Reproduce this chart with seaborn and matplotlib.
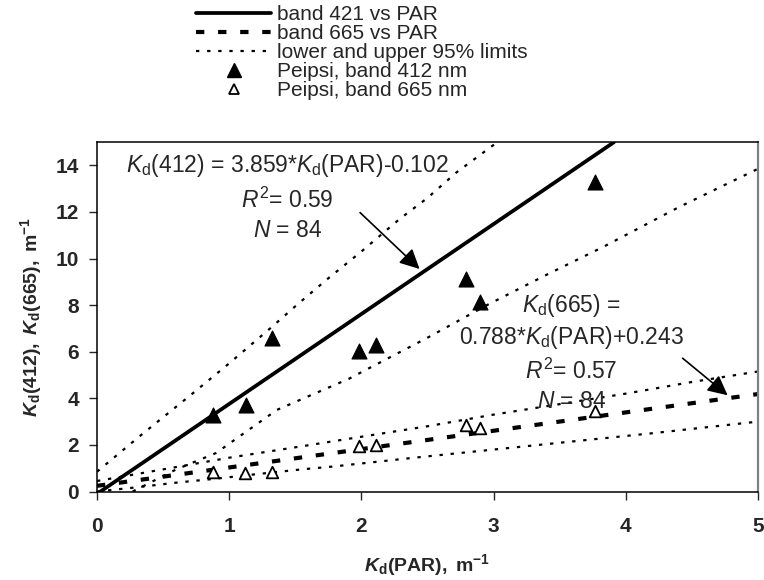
import matplotlib
matplotlib.use("Agg")
import matplotlib.pyplot as plt
import seaborn as sns
import pandas as pd
from matplotlib.lines import Line2D

# ---------------- data ----------------
kpar_412 = [0.88, 1.13, 1.32, 1.98, 2.11, 2.79, 2.90, 3.77]
kd_412 = [3.3, 3.7, 6.6, 6.05, 6.3, 9.1, 8.15, 13.3]

kpar_665 = [0.88, 1.12, 1.32, 1.98, 2.11, 2.79, 2.90, 3.77]
kd_665 = [0.85, 0.78, 0.85, 1.95, 2.0, 2.85, 2.72, 3.45]

fit412_x = [0.0, 3.91]
fit412_y = [-0.102, 14.99]
fit665_x = [0.0, 5.0]
fit665_y = [0.243, 4.183]

up412_x = [0.0, 0.35, 0.70, 1.0, 1.32, 1.51, 1.76, 2.0, 2.29, 2.5, 2.72, 3.03]
up412_y = [0.85, 2.5, 4.1, 5.5, 7.05, 8.0, 9.2, 10.3, 11.7, 12.6, 13.7, 15.0]
lo412_x = [0.27, 0.6, 0.9, 1.36, 1.91, 2.01, 2.5, 2.95, 3.4, 3.83, 4.4, 5.0]
lo412_y = [0.0, 0.95, 1.65, 3.5, 4.85, 5.15, 6.6, 8.0, 9.3, 10.5, 12.2, 13.85]
up665_x = [0.0, 0.5, 1.0, 1.56, 2.0, 2.5, 3.0, 3.5, 4.0, 4.5, 5.0]
up665_y = [0.45, 0.95, 1.45, 1.95, 2.35, 2.8, 3.3, 3.75, 4.2, 4.7, 5.15]
lo665_x = [0.0, 0.3, 0.6, 0.9, 1.2, 1.55, 1.8, 2.4, 3.0, 3.6, 4.2, 5.0]
lo665_y = [0.0, 0.18, 0.38, 0.55, 0.74, 0.95, 1.08, 1.45, 1.8, 2.15, 2.5, 3.0]

x_ticks = [0, 1, 2, 3, 4, 5]
y_ticks = [0, 2, 4, 6, 8, 10, 12, 14]

legend_labels = ["band 421 vs PAR", "band 665 vs PAR", "lower and upper 95% limits",
                 "Peipsi, band 412 nm", "Peipsi, band 665 nm"]

# ---------------- style ----------------
sns.set_style("ticks")
plt.rcParams["font.family"] = ["Liberation Sans", "DejaVu Sans"]
plt.rcParams["mathtext.fontset"] = "custom"
plt.rcParams["mathtext.rm"] = "Liberation Sans"
plt.rcParams["mathtext.it"] = "Liberation Sans:italic"
plt.rcParams["mathtext.bf"] = "Liberation Sans:bold"
plt.rcParams["mathtext.bfit"] = "Liberation Sans:italic:bold"

fig = plt.figure(figsize=(7.64, 5.8), dpi=100)
ax = fig.add_axes([97 / 764, 1 - 491.5 / 580, (758 - 97) / 764, (491.5 - 142) / 580])

dot = (0, (1.5, 3.5))
dash = (0, (2.0, 3.3))

def line(x, y, **kw):
    df = pd.DataFrame({"x": x, "y": y})
    sns.lineplot(data=df, x="x", y="y", ax=ax, sort=False, estimator=None, **kw)

line(up412_x, up412_y, color="black", lw=1.6, linestyle=dot)
line(lo412_x, lo412_y, color="black", lw=1.6, linestyle=dot)
line(up665_x, up665_y, color="black", lw=1.6, linestyle=dot)
line(lo665_x, lo665_y, color="black", lw=1.6, linestyle=dot)
line(fit412_x, fit412_y, color="black", lw=2.7)
line(fit665_x, fit665_y, color="black", lw=3.0, linestyle=dash)
for l in ax.lines:
    l.set_dash_capstyle("butt")

sns.scatterplot(x=kpar_412, y=kd_412, ax=ax, marker="^", s=115, color="black",
                edgecolor="black", zorder=5)
sns.scatterplot(x=kpar_665, y=kd_665, ax=ax, marker="^", s=70, facecolor="white",
                edgecolor="black", linewidth=1.3, zorder=5)

ax.set_xlim(0, 5)
ax.set_ylim(0, 15)
ax.set_xticks(x_ticks)
ax.set_yticks(y_ticks)
ax.tick_params(axis="both", direction="out", length=6, width=1, labelsize=15)
ax.tick_params(axis="x", pad=12)
ax.tick_params(axis="y", pad=7)
for t in ax.get_xticklabels() + ax.get_yticklabels():
    t.set_fontweight("bold")
for s in ["left", "bottom", "top"]:
    ax.spines[s].set_color("black")
    ax.spines[s].set_linewidth(1.1)
ax.spines["right"].set_visible(True)
ax.spines["right"].set_color("#808080")
ax.spines["right"].set_linewidth(1.6)
ax.spines["top"].set_visible(True)

ax.set_xlabel(r"$\mathbfit{K}_{\mathbf{d}}\mathbf{(PAR),\ m^{-1}}$", fontsize=14, labelpad=12)
ax.set_ylabel(r"$\mathbfit{K}_{\mathbf{d}}\mathbf{(412),\ }\mathbfit{K}_{\mathbf{d}}\mathbf{(665),\ m^{-1}}$",
              fontsize=14, labelpad=8)

# ---------------- annotations ----------------
fs = 16.5
ax.text(1.44, 14.0, r"$\mathit{K}_{\mathrm{d}}$(412) = 3.859*$\mathit{K}_{\mathrm{d}}$(PAR)-0.102",
        fontsize=fs, ha="center", va="center")
ax.text(1.44, 12.5, r"$\mathit{R}^{2}$= 0.59", fontsize=fs, ha="center", va="center")
ax.text(1.44, 11.2, r"$\mathit{N}$ = 84", fontsize=fs, ha="center", va="center")
ax.annotate("", xy=(2.44, 9.55), xytext=(1.99, 11.97),
            arrowprops=dict(arrowstyle="-|>", mutation_scale=30, lw=1.2, color="black",
                            shrinkA=0, shrinkB=0))

ax.text(3.59, 8.0, r"$\mathit{K}_{\mathrm{d}}$(665) =", fontsize=fs, ha="center", va="center")
ax.text(3.59, 6.6, r"0.788*$\mathit{K}_{\mathrm{d}}$(PAR)+0.243", fontsize=fs, ha="center", va="center")
ax.text(3.59, 5.15, r"$\mathit{R}^{2}$= 0.57", fontsize=fs, ha="center", va="center")
ax.text(3.59, 3.85, r"$\mathit{N}$ = 84", fontsize=fs, ha="center", va="center")
ax.annotate("", xy=(4.77, 4.13), xytext=(4.43, 5.72),
            arrowprops=dict(arrowstyle="-|>", mutation_scale=30, lw=1.2, color="black",
                            shrinkA=0, shrinkB=0))

# ---------------- legend ----------------
handles = [
    Line2D([], [], color="black", lw=2.7),
    Line2D([], [], color="black", lw=3.0, linestyle=dash, dash_capstyle="butt"),
    Line2D([], [], color="black", lw=1.6, linestyle=dot, dash_capstyle="butt"),
    Line2D([], [], color="black", marker="^", markersize=10, linestyle="none"),
    Line2D([], [], color="black", marker="^", markersize=7, markerfacecolor="white",
           markeredgewidth=1.3, linestyle="none"),
]
fig.legend(handles, legend_labels, loc="upper left", bbox_to_anchor=(196 / 764, 1 - 5 / 580),
           frameon=False, fontsize=15, handlelength=3.6, handletextpad=0.3,
           labelspacing=0.0, borderpad=0.0, borderaxespad=0)

fig.savefig("out.png", dpi=100)
